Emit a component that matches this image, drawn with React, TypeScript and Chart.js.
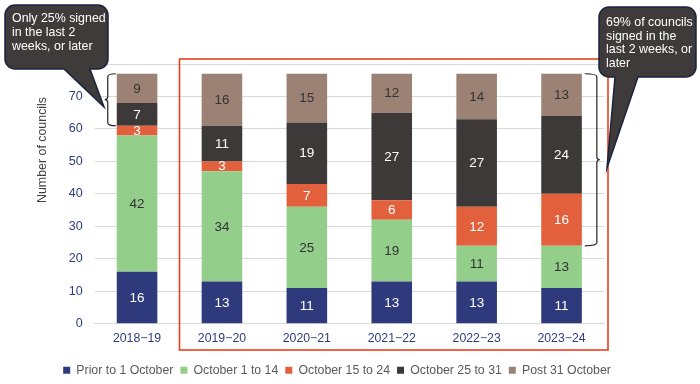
import React, { useEffect, useRef } from "react";
import { Chart, registerables } from "chart.js";

Chart.register(...registerables);

const categories = ["2018−19", "2019−20", "2020−21", "2021−22", "2022−23", "2023−24"];
const seriesNames = ["Prior to 1 October", "October 1 to 14", "October 15 to 24", "October 25 to 31", "Post 31 October"];
const priorTo1Oct = [16, 13, 11, 13, 13, 11];
const oct1to14 = [42, 34, 25, 19, 11, 13];
const oct15to24 = [3, 3, 7, 6, 12, 16];
const oct25to31 = [7, 11, 19, 27, 27, 24];
const post31Oct = [9, 16, 15, 12, 14, 13];
const seriesValues = [priorTo1Oct, oct1to14, oct15to24, oct25to31, post31Oct];
const seriesColors = ["#2E3A7C", "#93CE8B", "#E2603B", "#3D3938", "#9C8274"];
const labelColors = ["#FFFFFF", "#333333", "#FFFFFF", "#FFFFFF", "#333333"];
const yMax = 80;
const yStep = 10;
const yTitle = "Number of councils";
const callout1Lines = ["Only 25% signed", "in the last 2", "weeks, or later"];
const callout2Lines = ["69% of councils", "signed in the", "last 2 weeks, or", "later"];

const FONT = "'Liberation Sans', Arial, sans-serif";

function calloutPath(ctx: CanvasRenderingContext2D, x: number, y: number, w: number, h: number, r: number, t1: number, t2: number, tipX: number, tipY: number) {
  ctx.beginPath();
  ctx.moveTo(x + r, y);
  ctx.lineTo(x + w - r, y);
  ctx.arcTo(x + w, y, x + w, y + r, r);
  ctx.lineTo(x + w, y + h - r);
  ctx.arcTo(x + w, y + h, x + w - r, y + h, r);
  ctx.lineTo(t2, y + h);
  ctx.lineTo(tipX, tipY);
  ctx.lineTo(t1, y + h);
  ctx.lineTo(x + r, y + h);
  ctx.arcTo(x, y + h, x, y + h - r, r);
  ctx.lineTo(x, y + r);
  ctx.arcTo(x, y, x + r, y, r);
  ctx.closePath();
}

function drawCallout(ctx: CanvasRenderingContext2D, lines: string[], x: number, y: number, w: number, h: number, t1: number, t2: number, tipX: number, tipY: number, tx: number, ty: number, lh: number) {
  ctx.save();
  calloutPath(ctx, x, y, w, h, 10, t1, t2, tipX, tipY);
  ctx.fillStyle = "#3F3B3A";
  ctx.fill();
  ctx.strokeStyle = "#1B2340";
  ctx.lineWidth = 1.5;
  ctx.stroke();
  ctx.fillStyle = "#FFFFFF";
  ctx.font = `12.4px ${FONT}`;
  ctx.textAlign = "left";
  ctx.textBaseline = "middle";
  lines.forEach((l, i) => ctx.fillText(l, tx, ty + i * lh));
  ctx.restore();
}

function drawBrace(ctx: CanvasRenderingContext2D, xEnd: number, xLine: number, yTop: number, yBot: number, dir: number) {
  const r = 3;
  const ym = (yTop + yBot) / 2;
  ctx.save();
  ctx.strokeStyle = "#222222";
  ctx.lineWidth = 1.2;
  ctx.beginPath();
  ctx.moveTo(xEnd, yTop);
  ctx.quadraticCurveTo(xLine, yTop, xLine, yTop + r);
  ctx.lineTo(xLine, ym - r);
  ctx.quadraticCurveTo(xLine, ym, xLine + dir * r, ym);
  ctx.quadraticCurveTo(xLine, ym, xLine, ym + r);
  ctx.lineTo(xLine, yBot - r);
  ctx.quadraticCurveTo(xLine, yBot, xEnd, yBot);
  ctx.stroke();
  ctx.restore();
}

const annotationPlugin = {
  id: "annotations",
  afterLayout(chart: any) {
    const lg = chart.legend;
    if (lg) {
      const h = lg.height;
      lg.top = 357;
      lg.bottom = 357 + h;
    }
  },
  afterDatasetsDraw(chart: any) {
    const ctx = chart.ctx as CanvasRenderingContext2D;
    ctx.save();
    ctx.font = `13.5px ${FONT}`;
    ctx.textAlign = "center";
    ctx.textBaseline = "middle";
    chart.data.datasets.forEach((ds: any, di: number) => {
      const meta = chart.getDatasetMeta(di);
      meta.data.forEach((el: any, i: number) => {
        const p = el.getProps(["x", "y", "base"], true);
        ctx.fillStyle = labelColors[di];
        ctx.fillText(String(ds.data[i]), p.x, (p.y + p.base) / 2 + 0.5);
      });
    });
    ctx.restore();
  },
  afterDraw(chart: any) {
    const ctx = chart.ctx as CanvasRenderingContext2D;
    const xs = chart.scales.x;
    const ys = chart.scales.y;
    const area = chart.chartArea;
    const catW = (area.right - area.left) / categories.length;

    // y-axis title
    ctx.save();
    ctx.translate(43, 150);
    ctx.rotate(-Math.PI / 2);
    ctx.font = `12.4px ${FONT}`;
    ctx.fillStyle = "#404040";
    ctx.textAlign = "center";
    ctx.textBaseline = "middle";
    ctx.fillText(yTitle, 0, 0);
    ctx.restore();

    // red highlight rectangle
    ctx.save();
    ctx.strokeStyle = "#E8401C";
    ctx.lineWidth = 1.6;
    const rl = xs.getPixelForValue(1) - catW / 2;
    ctx.strokeRect(rl, area.top - 5, area.right + 4 - rl, 350 - (area.top - 5));
    ctx.restore();

    // braces
    const el0 = chart.getDatasetMeta(0).data[0];
    const bw = el0.width;
    const total0 = seriesValues.reduce((s, a) => s + a[0], 0);
    const low0 = priorTo1Oct[0] + oct1to14[0] + oct15to24[0];
    const left0 = xs.getPixelForValue(0) - bw / 2;
    drawBrace(ctx, left0 - 1, left0 - 9, ys.getPixelForValue(total0), ys.getPixelForValue(low0), -1);

    const n = categories.length - 1;
    const totalN = seriesValues.reduce((s, a) => s + a[n], 0);
    const lowN = priorTo1Oct[n] + oct1to14[n];
    const rightN = xs.getPixelForValue(n) + bw / 2;
    drawBrace(ctx, rightN + 3, rightN + 15, ys.getPixelForValue(totalN), ys.getPixelForValue(lowN), 1);

    // callouts
    drawCallout(ctx, callout1Lines, 5, 5, 103, 64, 64, 90, 104, 107, 12, 19, 14);
    drawCallout(ctx, callout2Lines, 599, 7, 97, 70, 615, 638, 607, 168, 606, 23, 13.5);
  },
};

export default function App() {
  const ref = useRef<HTMLCanvasElement | null>(null);
  useEffect(() => {
    if (!ref.current) return;
    Chart.defaults.font.family = FONT;
    const chart = new Chart(ref.current, {
      type: "bar",
      data: {
        labels: categories,
        datasets: seriesNames.map((name, i) => ({
          label: name,
          data: seriesValues[i],
          backgroundColor: seriesColors[i],
          borderWidth: 0,
          barPercentage: 0.478,
          categoryPercentage: 1,
          yAxisID: "y",
        })),
      },
      options: {
        responsive: false,
        animation: false,
        layout: { padding: { left: 0, right: 26, top: 64, bottom: 8 } },
        plugins: {
          tooltip: { enabled: false },
          legend: {
            position: "bottom",
            labels: {
              boxWidth: 7,
              boxHeight: 7,
              padding: 7,
              color: "#595959",
              font: { size: 12.3, family: FONT },
            },
          },
        },
        scales: {
          x: {
            stacked: true,
            grid: { display: false, drawTicks: false },
            border: { display: true, color: "#D9D9D9" },
            ticks: { color: "#2F3C7E", font: { size: 12.3 }, padding: 8 },
            afterFit: (s: any) => { s.height = 23; },
          },
          y: {
            stacked: true,
            min: 0,
            max: yMax,
            grid: { color: "#D9D9D9", drawTicks: false },
            border: { display: false },
            ticks: { stepSize: yStep, color: "#2F3C7E", font: { size: 12.5 }, padding: 12 },
            afterFit: (s: any) => { s.width = 94.6; },
          },
          yDummy: {
            position: "right",
            display: true,
            grid: { display: false },
            border: { display: false },
            ticks: { display: false },
            afterFit: (s: any) => { s.width = 70; },
          },
        },
      },
      plugins: [annotationPlugin],
    });
    return () => chart.destroy();
  }, []);
  return (
    <div style={{ position: "fixed", left: 0, top: 0, width: 700, height: 384, background: "#FFFFFF" }}>
      <canvas ref={ref} width={700} height={384} style={{ display: "block" }} />
    </div>
  );
}
